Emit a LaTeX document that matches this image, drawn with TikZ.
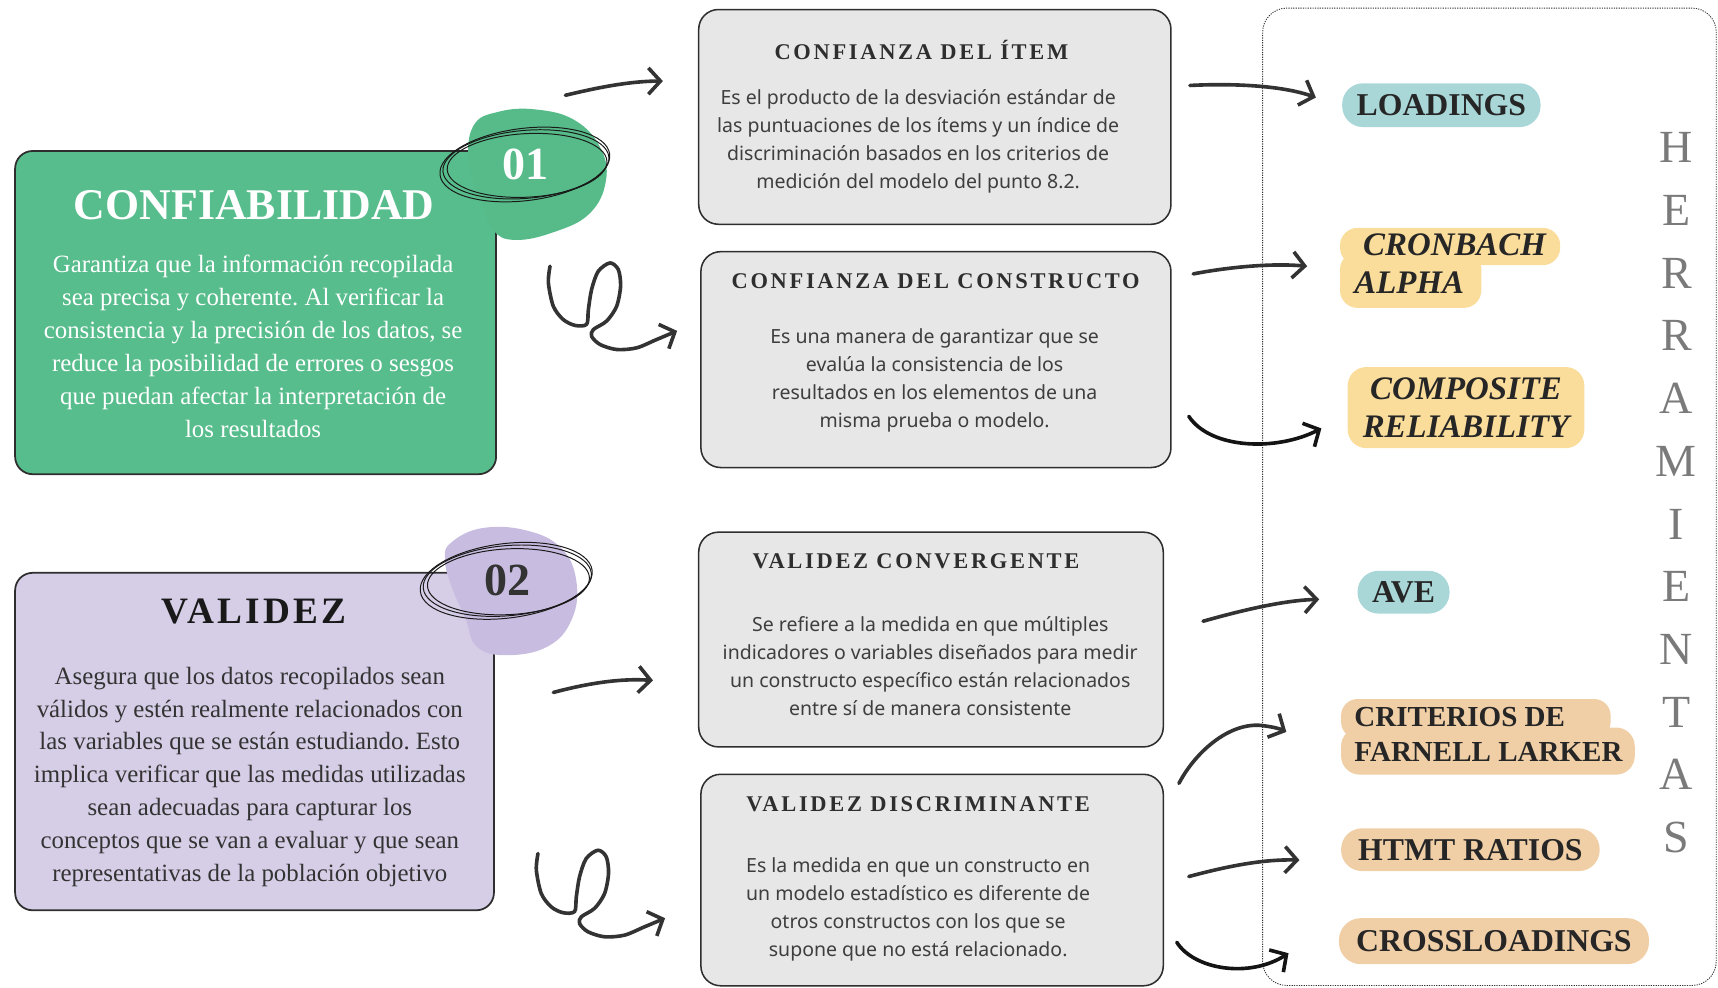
\documentclass[tikz,border=0pt]{standalone}
\usepackage{fontspec}
\setmainfont{Liberation Serif}
\newfontfamily\cardsans{Noto Sans}
\newfontfamily\trackedserif[LetterSpace=12]{Liberation Serif}
\newfontfamily\headserif[LetterSpace=9]{Liberation Serif}
\usetikzlibrary{arrows.meta,calc}
\frenchspacing

\definecolor{panelgreen}{HTML}{58BD8C}
\definecolor{blobgreen}{HTML}{56BB89}
\definecolor{panellav}{HTML}{D6CDE6}
\definecolor{bloblav}{HTML}{C8BDE0}
\definecolor{cardgrey}{HTML}{E7E7E7}
\definecolor{edgeink}{HTML}{2E2E2E}
\definecolor{bodyink}{HTML}{3E3E3E}
\definecolor{arrowink}{HTML}{333333}
\definecolor{pillteal}{HTML}{A9D7D8}
\definecolor{pillgold}{HTML}{FADC9B}
\definecolor{pillpeach}{HTML}{F0CFA7}
\definecolor{toolgrey}{HTML}{7A7A7A}

\begin{document}
\begin{tikzpicture}[x=1pt,y=-1pt,
  panel/.style={draw=edgeink, line width=1.6pt, rounded corners=16pt, anchor=north west, inner sep=0pt},
  card/.style={draw=edgeink, line width=1.4pt, fill=cardgrey, rounded corners=18pt, anchor=north west, inner sep=0pt},
  cardtitle/.style={inner sep=0pt, text=edgeink, font=\fontsize{20.5}{21}\selectfont\trackedserif\bfseries},
  cardbody/.style={inner sep=0pt, align=center, text=bodyink, font=\fontsize{17.8}{25.5}\selectfont\cardsans},
  panelbody/.style={inner sep=0pt, align=center, font=\fontsize{22.7}{30}\selectfont},
  badge/.style={inner sep=0pt, font=\fontsize{42}{42}\selectfont\bfseries},
  scribble/.style={draw=black!90, line width=0.9pt},
  pilltext/.style={inner sep=0pt, text=black!85, font=\fontsize{29}{30}\selectfont\bfseries},
  pillsmall/.style={inner sep=0pt, text=black!85, font=\fontsize{26.5}{30}\selectfont\bfseries},
  pillital/.style={inner sep=0pt, text=black!85, align=center, font=\fontsize{30}{34}\selectfont\bfseries\itshape},
  toolletter/.style={inner sep=0pt, text=toolgrey, font=\fontsize{42}{42}\selectfont},
  handarrow/.style={draw=arrowink, line width=3.3pt, line cap=round, line join=round,
    -{Straight Barb[length=11pt,width=24pt]}},
  darkarrow/.style={handarrow, draw=black!92},
  curl/.pic={\draw[handarrow] plot[smooth, tension=0.5] coordinates {(0,0) (-1.5,15) (3,36.5) (12,48.6) (22.8,54) (33.4,53) (35,39.5) (38,21) (44,4.6) (54.7,-3) (62.3,3) (64.4,18) (60.8,36.5) (51.7,50) (39.5,57.8) (38,64) (45.6,71.4) (60.8,76) (79,74.5) (97,67) (116,59)};}
]
\useasboundingbox (0,0) rectangle (1568,901);

% ---------- left panels ----------
\node[panel, fill=panelgreen, minimum width=439pt, minimum height=295pt] (conf) at (13,137) {};
\node[inner sep=0pt, text=white, font=\fontsize{40}{40}\selectfont\bfseries] (confTitle) at (232,187) {CONFIABILIDAD};
\node[panelbody, text=white] (confBody) at (231,316) {Garantiza que la información recopilada\\sea precisa y coherente. Al verificar la\\consistencia y la precisión de los datos, se\\reduce la posibilidad de errores o sesgos\\que puedan afectar la interpretación de\\los resultados};

\fill[blobgreen] plot[smooth cycle, tension=0.7] coordinates {(432,115) (455,102) (490,100) (525,110) (548,135) (553,165) (538,195) (505,212) (470,219) (450,210) (440,185) (428,150)};
\coordinate (oneC) at (480,150);
\draw[scribble, rotate around={5:(oneC)}] (oneC) ellipse [x radius=76, y radius=31];
\draw[scribble, rotate around={3:(oneC)}] ($(oneC)+(1,1)$) ellipse [x radius=73, y radius=29];
\draw[scribble, rotate around={7:(oneC)}] ($(oneC)+(-1,0)$) ellipse [x radius=78, y radius=33];
\node[badge, text=white] (one) at (oneC) {01};

\node[panel, fill=panellav, minimum width=437pt, minimum height=308pt] (valid) at (13,522) {};
\node[inner sep=0pt, text=black!90, font=\fontsize{34}{34}\selectfont\headserif\bfseries] (validTitle) at (232,558) {VALIDEZ};
\node[panelbody, text=black!80] (validBody) at (228,709) {Asegura que los datos recopilados sean\\válidos y estén realmente relacionados con\\las variables que se están estudiando. Esto\\implica verificar que las medidas utilizadas\\sean adecuadas para capturar los\\conceptos que se van a evaluar y que sean\\representativas de la población objetivo};

\fill[bloblav] plot[smooth cycle, tension=0.7] coordinates {(412,495) (440,482) (480,484) (512,500) (526,530) (522,565) (500,590) (462,598) (435,590) (425,565) (412,535) (406,510)};
\coordinate (twoC) at (463,530);
\draw[scribble, rotate around={5:(twoC)}] (twoC) ellipse [x radius=77, y radius=32];
\draw[scribble, rotate around={3:(twoC)}] ($(twoC)+(1,1)$) ellipse [x radius=74, y radius=30];
\draw[scribble, rotate around={7:(twoC)}] ($(twoC)+(-1,0)$) ellipse [x radius=79, y radius=34];
\node[badge, text=black!80] (two) at (twoC) {02};

% ---------- middle cards ----------
\node[card, minimum width=431pt, minimum height=196pt] (item) at (637,8) {};
\node[cardtitle] (itemTitle) at (841,46) {CONFIANZA DEL ÍTEM};
\node[cardbody] (itemBody) at (838,129) {Es el producto de la desviación estándar de\\las puntuaciones de los ítems y un índice de\\discriminación basados en los criterios de\\medición del modelo del punto 8.2.};

\node[card, minimum width=429pt, minimum height=197pt] (constr) at (639,229) {};
\node[cardtitle] (constrTitle) at (854,257) {CONFIANZA DEL CONSTRUCTO};
\node[cardbody] (constrBody) at (853,347) {Es una manera de garantizar que se\\evalúa la consistencia de los\\resultados en los elementos de una\\misma prueba o modelo.};

\node[card, minimum width=424pt, minimum height=196pt] (conv) at (637,485) {};
\node[cardtitle] (convTitle) at (836,512) {VALIDEZ CONVERGENTE};
\node[cardbody] (convBody) at (849,608) {Se refiere a la medida en que múltiples\\indicadores o variables diseñados para medir\\un constructo específico están relacionados\\entre sí de manera consistente};

\node[card, minimum width=422pt, minimum height=193pt] (disc) at (639,706) {};
\node[cardtitle] (discTitle) at (838,734) {VALIDEZ DISCRIMINANTE};
\node[cardbody] (discBody) at (838,830) {Es la medida en que un constructo en\\un modelo estadístico es diferente de\\otros constructos con los que se\\supone que no está relacionado.};

% ---------- tools frame ----------
\node[draw=black!80, line width=0.8pt, dash pattern=on 1.1pt off 1.1pt, rounded corners=22pt, anchor=north west,
      minimum width=414pt, minimum height=892pt, inner sep=0pt] (tools) at (1152,7) {};
\foreach \ch [count=\i from 0] in {H,E,R,R,A,M,I,E,N,T,A,S}
  \node[toolletter] (ltr\i) at (1530,135+57.2*\i) {\ch};

% ---------- tool pills ----------
\node[pilltext, fill=pillteal, rounded corners=19pt, minimum width=181pt, minimum height=40pt] (loadings) at (1315.5,96) {LOADINGS};

\fill[pillgold, rounded corners=16pt] (1223,208) rectangle (1424,242);
\fill[pillgold, rounded corners=16pt] (1223,230) rectangle (1352,281);
\node[pillital, anchor=base west] (cronbach) at (1244,233) {CRONBACH};
\node[pillital, anchor=base west] (alpha) at (1236,268) {ALPHA};

\node[pillital, fill=pillgold, rounded corners=17pt, minimum width=216pt, minimum height=74pt] (composite) at (1338,372) {COMPOSITE\\RELIABILITY};

\node[pilltext, fill=pillteal, rounded corners=19pt, minimum width=84pt, minimum height=39pt] (ave) at (1281,540.5) {AVE};

\fill[pillpeach, rounded corners=15pt] (1224,638) rectangle (1470,674);
\fill[pillpeach, rounded corners=17pt] (1224,664) rectangle (1492,707);
\node[pillsmall, anchor=base west] (criterios) at (1236,663) {CRITERIOS DE};
\node[pillsmall, anchor=base west] (farnell) at (1236,695) {FARNELL LARKER};

\node[pilltext, fill=pillpeach, rounded corners=19pt, minimum width=236pt, minimum height=39pt] (htmt) at (1342,775.5) {HTMT RATIOS};
\node[pilltext, fill=pillpeach, rounded corners=20pt, minimum width=283pt, minimum height=42pt] (cross) at (1363.5,859) {CROSSLOADINGS};

% ---------- arrow end points ----------
\coordinate (a1s) at (516,87);   \coordinate (a1e) at (605,74);
\coordinate (curlA) at (502,243);
\coordinate (a3s) at (505,632);  \coordinate (a3e) at (596,621);
\coordinate (curlB) at (491,779);
\coordinate (a5s) at (1086,78);  \coordinate (a5e) at (1201,89);
\coordinate (a6s) at (1089,250); \coordinate (a6e) at (1193,243);
\coordinate (a7s) at (1085,380); \coordinate (a7e) at (1206,391);
\coordinate (a8s) at (1098,567); \coordinate (a8e) at (1204,547);
\coordinate (a9s) at (1076,715); \coordinate (a9e) at (1174,668);
\coordinate (a10s) at (1085,800); \coordinate (a10e) at (1186,785);
\coordinate (a11s) at (1074,860); \coordinate (a11e) at (1176,870);

% ---------- arrows ----------
\draw[handarrow] (a1s) .. controls (545,80) and (575,74) .. (a1e);
\pic at (curlA) {curl};
\draw[handarrow] (a3s) .. controls (535,624) and (565,619) .. (a3e);
\pic at (curlB) {curl};

\draw[handarrow] (a5s) .. controls (1125,76) and (1170,78) .. (a5e);
\draw[handarrow] (a6s) .. controls (1120,244) and (1160,240) .. (a6e);
\draw[darkarrow] (a7s) .. controls (1105,410) and (1165,412) .. (a7e);
\draw[handarrow] (a8s) .. controls (1130,558) and (1170,548) .. (a8e);
\draw[handarrow] (a9s) .. controls (1090,688) and (1120,660) .. (1150,662) .. controls (1160,663) and (1168,665) .. (a9e);
\draw[handarrow] (a10s) .. controls (1115,792) and (1150,784) .. (a10e);
\draw[darkarrow] (a11s) .. controls (1090,885) and (1140,893) .. (a11e);
\end{tikzpicture}
\end{document}
